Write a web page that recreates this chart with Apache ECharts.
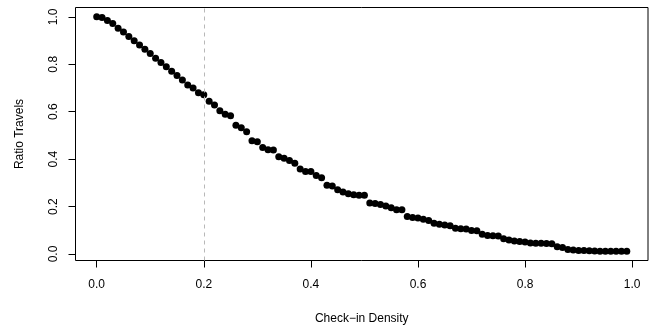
<!DOCTYPE html>
<html>
<head>
<meta charset="utf-8">
<script src="https://cdn.jsdelivr.net/npm/echarts@6/dist/echarts.min.js"></script>
<style>
html,body{margin:0;padding:0;background:#fff;}
#chart{width:651px;height:328px;}
</style>
</head>
<body>
<div id="chart"></div>
<script>
var checkinDensity = [
  0.00,0.01,0.02,0.03,0.04,0.05,0.06,0.07,0.08,0.09,
  0.10,0.11,0.12,0.13,0.14,0.15,0.16,0.17,0.18,0.19,
  0.20,0.21,0.22,0.23,0.24,0.25,0.26,0.27,0.28,0.29,
  0.30,0.31,0.32,0.33,0.34,0.35,0.36,0.37,0.38,0.39,
  0.40,0.41,0.42,0.43,0.44,0.45,0.46,0.47,0.48,0.49,
  0.50,0.51,0.52,0.53,0.54,0.55,0.56,0.57,0.58,0.59,
  0.60,0.61,0.62,0.63,0.64,0.65,0.66,0.67,0.68,0.69,
  0.70,0.71,0.72,0.73,0.74,0.75,0.76,0.77,0.78,0.79,
  0.80,0.81,0.82,0.83,0.84,0.85,0.86,0.87,0.88,0.89,
  0.90,0.91,0.92,0.93,0.94,0.95,0.96,0.97,0.98,0.99
];
var ratioTravels = [
  1.000,0.997,0.985,0.972,0.952,0.936,0.917,0.899,0.881,0.863,
  0.846,0.825,0.808,0.790,0.771,0.753,0.734,0.713,0.700,0.680,
  0.672,0.644,0.628,0.604,0.589,0.583,0.543,0.532,0.516,0.478,
  0.473,0.449,0.440,0.438,0.410,0.404,0.394,0.383,0.358,0.348,
  0.348,0.331,0.321,0.290,0.287,0.271,0.261,0.254,0.250,0.248,
  0.248,0.215,0.213,0.209,0.202,0.195,0.187,0.187,0.158,0.154,
  0.152,0.146,0.141,0.130,0.125,0.122,0.119,0.109,0.106,0.105,
  0.099,0.098,0.083,0.078,0.077,0.076,0.064,0.059,0.055,0.053,
  0.051,0.046,0.045,0.045,0.044,0.043,0.031,0.027,0.019,0.017,
  0.015,0.015,0.014,0.013,0.012,0.012,0.012,0.012,0.012,0.012
];
var xTicks = [0, 0.2, 0.4, 0.6, 0.8, 1.0];
var yTicks = [0, 0.2, 0.4, 0.6, 0.8, 1.0];
var thresholdX = 0.2;

var points = checkinDensity.map(function (x, i) { return [x, ratioTravels[i]]; });

var font = 'Liberation Sans, Arial, Helvetica, sans-serif';
var chart = echarts.init(document.getElementById('chart'), null, {renderer: 'canvas'});
chart.setOption({
  animation: false,
  backgroundColor: '#ffffff',
  grid: {
    left: 75.5, right: 3, top: 7.5, bottom: 67.5,
    show: true, borderColor: '#000', borderWidth: 1, backgroundColor: 'transparent',
    containLabel: false, outerBoundsMode: 'none'
  },
  xAxis: {
    type: 'value',
    min: -0.0396, max: 1.0296,
    name: 'Check\u2212in Density',
    nameLocation: 'middle',
    nameGap: 52,
    nameTextStyle: {color: '#000', fontSize: 12, fontFamily: font},
    axisLine: {show: false, onZero: false},
    axisTick: {show: true, customValues: xTicks, length: 7, inside: false, lineStyle: {color: '#000', width: 1}},
    axisLabel: {customValues: xTicks, color: '#000', fontSize: 12, fontFamily: font, margin: 18,
      formatter: function (v) { return v.toFixed(1); }},
    splitLine: {show: false}
  },
  yAxis: {
    type: 'value',
    min: -0.0275, max: 1.0395,
    name: 'Ratio Travels',
    nameLocation: 'middle',
    nameGap: 50,
    nameRotate: 90,
    nameTextStyle: {color: '#000', fontSize: 12, fontFamily: font},
    axisLine: {show: false, onZero: false},
    axisTick: {show: true, customValues: yTicks, length: 7, inside: false, lineStyle: {color: '#000', width: 1}},
    axisLabel: {customValues: yTicks, rotate: 90, color: '#000', fontSize: 12, fontFamily: font, margin: 16,
      formatter: function (v) { return v.toFixed(1); }},
    splitLine: {show: false}
  },
  series: [{
    type: 'scatter',
    data: points,
    symbol: 'circle',
    symbolSize: 7,
    itemStyle: {color: '#000', opacity: 1},
    markLine: {
      silent: true,
      symbol: ['none', 'none'],
      label: {show: false},
      lineStyle: {color: '#b8b8b8', type: [4, 4], width: 1},
      data: [{xAxis: thresholdX}]
    }
  }]
});
</script>
</body>
</html>
